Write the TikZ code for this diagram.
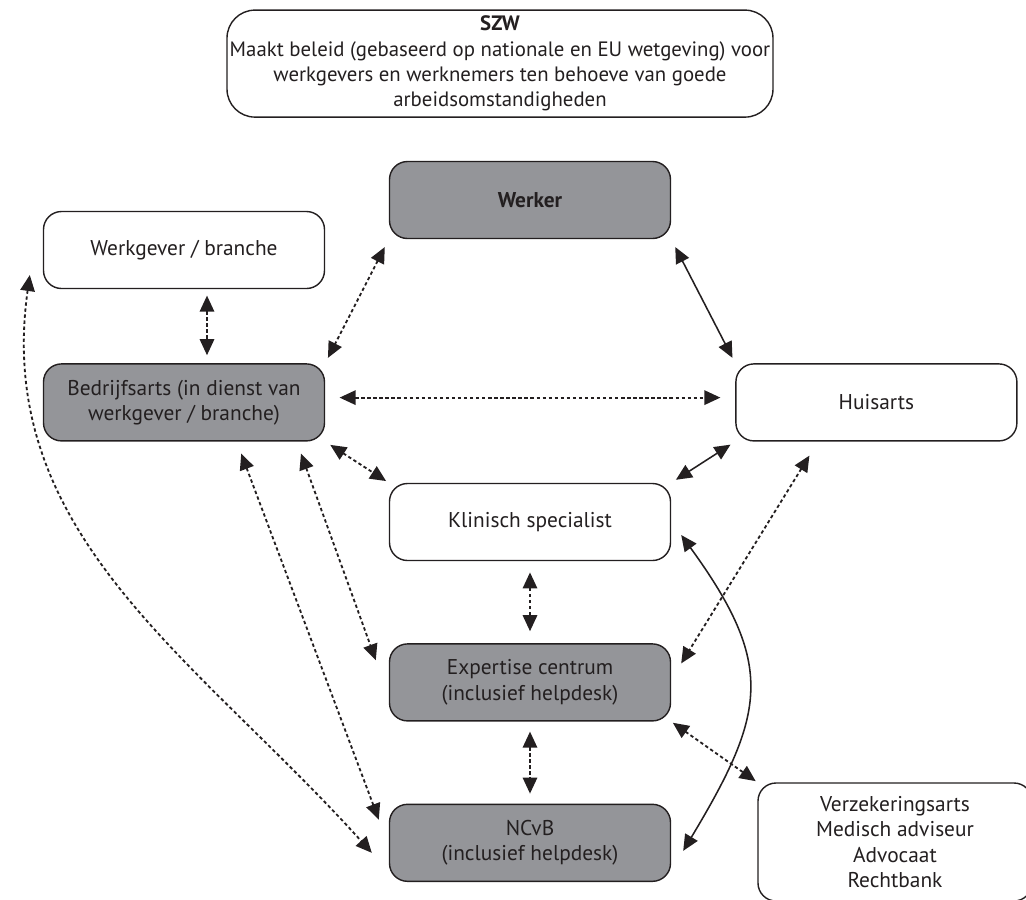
\documentclass[tikz,border=0pt]{standalone}
\usepackage{fontspec}
\setmainfont{PT Sans}
\usetikzlibrary{arrows.meta,positioning}
\definecolor{szwgray}{RGB}{148,149,153}
\definecolor{szwdark}{RGB}{35,31,32}

\begin{document}
\begin{tikzpicture}[
    node distance=2.05cm and 10.25cm,
    box/.style={rectangle, rounded corners=0.45cm, draw=szwdark, line width=1pt, fill=white,
                minimum width=7.025cm, minimum height=1.925cm, align=center,
                font=\fontsize{15.2}{18}\selectfont, text=szwdark},
    gbox/.style={box, fill=szwgray},
    arrow/.style={<->, >={Triangle[length=0.4cm,width=0.36cm]}, line width=1.1pt, color=szwdark},
    darrow/.style={arrow, line width=1.3pt, dash pattern=on 2.4pt off 1.9pt}
  ]
    \path[use as bounding box, clip] (0,0) rectangle (25.65,-22.475);

    \node[box, minimum width=13.65cm, minimum height=2.675cm, rounded corners=0.7cm, inner xsep=1pt,
          font=\fontsize{14.8}{18}\selectfont] (szw) at (12.5,-1.59)
      {\textbf{SZW}\\Maakt beleid (gebaseerd op nationale en EU wetgeving) voor\\werkgevers en werknemers ten behoeve van goede\\arbeidsomstandigheden};
    \node[gbox] (werker) at (13.25,-5) {\textbf{Werker}};
    \node[box] (werkgever) at (4.6,-6.25) {Werkgever / branche};
    \node[gbox, below=1.85cm of werkgever] (bedrijfsarts) {Bedrijfsarts (in dienst van\\werkgever / branche)};
    \node[box, right=of bedrijfsarts] (huisarts) {Huisarts};
    \node[box] (klinisch) at (13.25,-13.05) {Klinisch specialist};
    \node[gbox, below=of klinisch] (expertise) {Expertise centrum\\(inclusief helpdesk)};
    \node[gbox, below=of expertise] (ncvb) {NCvB\\(inclusief helpdesk)};
    \node[box, minimum width=6.85cm, minimum height=2.95cm] (overig) at (22.375,-21.05)
      {Verzekeringsarts\\Medisch adviseur\\Advocaat\\Rechtbank};

    \draw[darrow, shorten <=.16cm, shorten >=.2cm] ([xshift=.575cm]werkgever.south) -- ([xshift=.575cm]bedrijfsarts.north);
    \draw[darrow, shorten <=.22cm, shorten >=.15cm] (werker.south west) -- (bedrijfsarts.north east);
    \draw[arrow, shorten <=.22cm, shorten >=.15cm] (werker.south east) -- (huisarts.north west);
    \draw[darrow, shorten <=.36cm, shorten >=.37cm] ([yshift=.12cm]bedrijfsarts.east) -- ([yshift=.12cm]huisarts.west);
    \draw[darrow, shorten <=.15cm, shorten >=.08cm] (bedrijfsarts.south east) -- (klinisch.north west);
    \draw[darrow] ([xshift=1.43cm,yshift=-.3cm]bedrijfsarts.south) -- ([xshift=-.25cm,yshift=-.4cm]ncvb.north west);
    \draw[darrow] ([xshift=2.925cm,yshift=-.3cm]bedrijfsarts.south) -- ([xshift=-.325cm,yshift=-.425cm]expertise.north west);
    \draw[darrow] ([xshift=-.325cm,yshift=-.625cm]werkgever.west) to[out=262,in=132] ([xshift=-.425cm,yshift=-.25cm]ncvb.west);
    \draw[darrow, shorten <=.28cm, shorten >=.3cm] (klinisch) -- (expertise);
    \draw[darrow, shorten <=.25cm, shorten >=.25cm] (expertise) -- (ncvb);
    \draw[arrow, shorten <=.14cm, shorten >=.14cm] (huisarts.south west) -- (klinisch.north east);
    \draw[darrow] ([xshift=-1.675cm,yshift=-.35cm]huisarts.south) -- ([xshift=.25cm,yshift=.475cm]expertise.east);
    \draw[arrow] ([xshift=.25cm,yshift=-.325cm]klinisch.east) to[out=-54,in=59,looseness=1.3] ([xshift=.3cm,yshift=-.2cm]ncvb.east);
    \draw[darrow, shorten <=.05cm, shorten >=.05cm] (expertise.south east) -- (overig.north west);
  \end{tikzpicture}
\end{document}
